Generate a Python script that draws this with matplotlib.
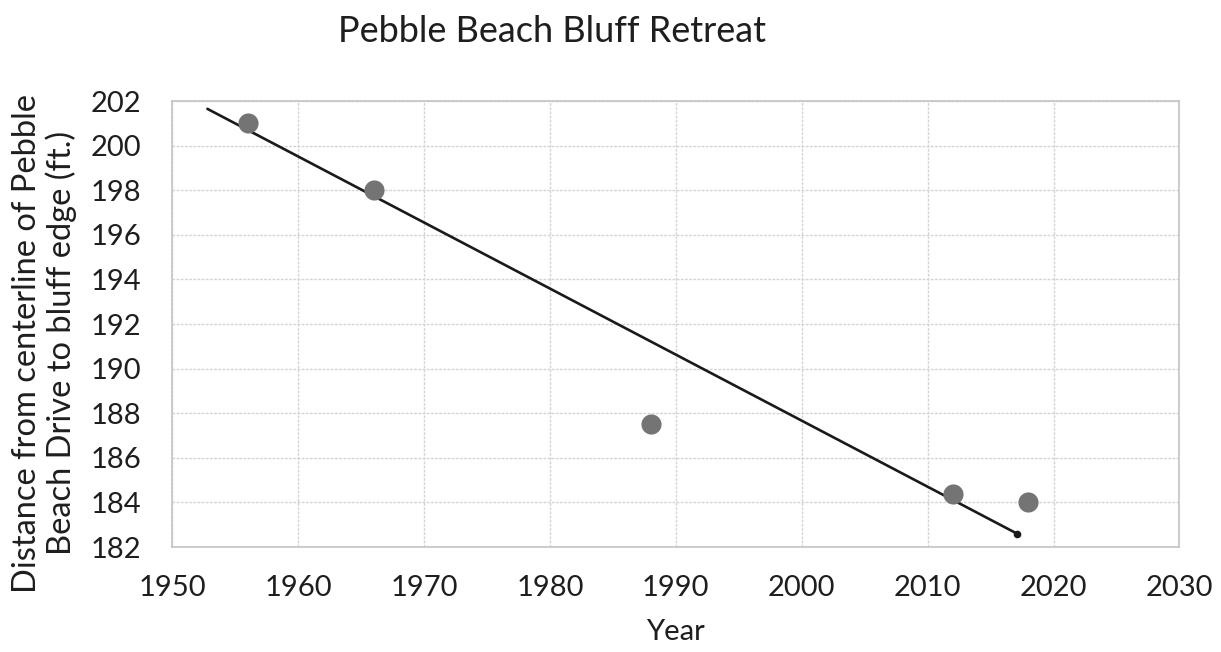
import matplotlib
matplotlib.use("Agg")
import matplotlib.pyplot as plt

# Measured bluff-edge distances
years = [1956, 1966, 1988, 2012, 2018]
distance_ft = [201.0, 198.0, 187.5, 184.4, 184.0]

# Hand-drawn trend line end points
trend_years = [1952.8, 2017.1]
trend_distance_ft = [201.65, 182.6]

x_ticks = [1950, 1960, 1970, 1980, 1990, 2000, 2010, 2020, 2030]
y_ticks = [182, 184, 186, 188, 190, 192, 194, 196, 198, 200, 202]

plt.rcParams["font.family"] = ["Lato", "DejaVu Sans"]

fig = plt.figure(figsize=(12.21, 6.52), dpi=100)
ax = fig.add_axes([0.141, 0.161, 0.825, 0.684])

ax.plot(trend_years, trend_distance_ft, color="#1a1a1a", linewidth=1.9,
        solid_capstyle="round", zorder=3)
ax.plot(trend_years[-1:], trend_distance_ft[-1:], "o", color="#1a1a1a",
        markersize=4.5, zorder=3)
ax.plot(years, distance_ft, "o", color="#747474", markersize=14.5,
        markeredgewidth=0, zorder=4)

ax.set_xlim(1950, 2030)
ax.set_ylim(182, 202)
ax.set_xticks(x_ticks)
ax.set_yticks(y_ticks)
ax.tick_params(axis="both", length=0, labelsize=21, colors="#1e1e1e")
ax.tick_params(axis="x", pad=20)
ax.tick_params(axis="y", pad=22)

ax.grid(True, color="#d4d4d4", linewidth=1.0, linestyle=(0, (2, 1)))
ax.set_axisbelow(True)
for side in ax.spines.values():
    side.set_color("#c4c4c4")
    side.set_linewidth(1.2)
    side.set_linestyle((0, (2, 1)))

ax.set_xlabel("Year", fontsize=21, color="#1e1e1e", labelpad=13)
ax.set_ylabel("Distance from centerline of Pebble\nBeach Drive to bluff edge (ft.)",
              fontsize=23.5, color="#1e1e1e", linespacing=1.15)
ax.yaxis.set_label_coords(-0.094, 0.457)

fig.text(0.452, 0.951, "Pebble Beach Bluff Retreat", fontsize=26,
         color="#1e1e1e", ha="center", va="center")

fig.savefig("out.png", dpi=100, facecolor="white")
